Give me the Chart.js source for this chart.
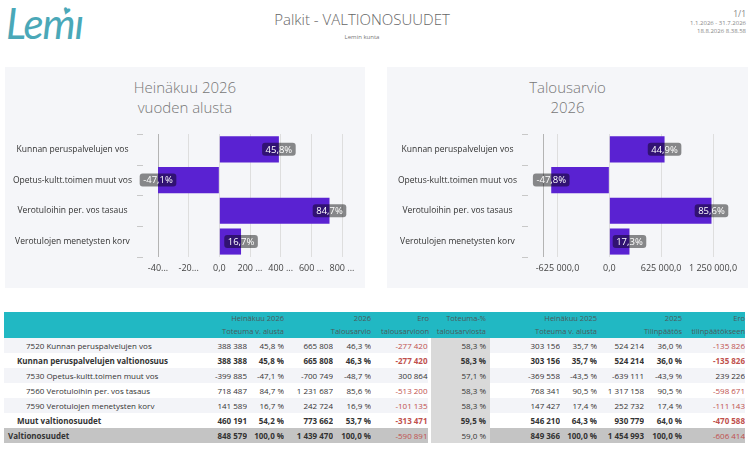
<!DOCTYPE html>
<html>
<head>
<meta charset="utf-8">
<script src="https://cdn.jsdelivr.net/npm/chart.js@4.4.1/dist/chart.umd.min.js"></script>
<style>
    body { margin: 0; width: 750px; height: 450px; background: #fff; font-family: "Open Sans", "Noto Sans", sans-serif; position: relative; overflow: hidden; }
    .abs { position: absolute; }
    #logo { left: 6px; top: -2px; font-family: Lato, sans-serif; font-style: italic; font-size: 42px; color: #4aa8b8; letter-spacing: -1px; }
    #logo .heart { position: absolute; left: 57px; top: 4px; font-size: 13px; font-style: normal; transform: rotate(20deg); }
    #title { left: 0; width: 724px; top: 9px; text-align: center; font-size: 15px; line-height: 20px; color: #666; font-weight: 300; }
    #subtitle { left: 0; width: 724px; top: 33px; text-align: center; font-size: 6px; color: #777; }
    #meta { right: 4px; top: 9px; text-align: right; color: #888; font-size: 6px; line-height: 8px; }
    #meta .page { font-size: 8.5px; line-height: 10px; }
    .panel { top: 67px; height: 221px; background: #f5f6f9; }
    .panel .ptitle { position: absolute; left: 0; right: 0; top: 10px; text-align: center; font-size: 15px; line-height: 20px; color: #777; font-weight: 300; }
    .panel canvas { position: absolute; left: 0; top: 0; }
    table { position: absolute; left: 4px; top: 312px; width: 741px; border-collapse: collapse; table-layout: fixed; font-size: 8px; color: #333; }
    th { background: #21b8c3; color: #4a5a5c; font-weight: normal; font-size: 7.5px; line-height: 13px; height: 26px; text-align: right; padding: 0; white-space: nowrap; }
    td { height: 15px; padding: 0; text-align: right; white-space: nowrap; overflow: hidden; }
    td.lbl { text-align: left; }
    tr.odd td { background: #f3f4f8; }
    tr.total td { background: #c4c4c4; }
    td.share { background: #d9d9d9 !important; padding-right: 4px; border-left: 3px solid transparent; background-clip: padding-box !important; }
    .neg { color: #c0504d; }
    .b { font-weight: bold; }
</style>
</head>
<body>
<div id="logo" class="abs">Lemı<span class="heart">♥</span></div>
<div id="title" class="abs">Palkit - VALTIONOSUUDET</div>
<div id="subtitle" class="abs">Lemin kunta</div>
<div id="meta" class="abs"><div class="page">1/1</div>1.1.2026 - 31.7.2026<br>18.8.2026 8.38.58</div>

<div class="panel abs" style="left:5px; width:360px;">
    <div class="ptitle">Heinäkuu 2026<br>vuoden alusta</div>
    <canvas id="chartToteuma" width="360" height="221"></canvas>
</div>
<div class="panel abs" style="left:387px; width:361px;">
    <div class="ptitle">Talousarvio<br>2026</div>
    <canvas id="chartTalousarvio" width="361" height="221"></canvas>
</div>

<table id="report"></table>

<script>
// chart data
const categories = ['Kunnan peruspalvelujen vos', 'Opetus-kultt.toimen muut vos', 'Verotuloihin per. vos tasaus', 'Verotulojen menetysten korv'];
const toteuma2026 = [388388, -399885, 718487, 141589];
const toteuma2026Pct = [45.8, -47.1, 84.7, 16.7];
const talousarvio2026 = [665808, -700749, 1231687, 242724];
const talousarvio2026Pct = [44.9, -47.8, 85.6, 17.3];

const toteumaTicks = [-400000, -200000, 0, 200000, 400000, 600000, 800000];
const toteumaTickLabels = ['-40...', '-20...', '0,0', '200 ...', '400 ...', '600 ...', '800 ...'];
const talousarvioTicks = [-625000, 0, 625000, 1250000];
const talousarvioTickLabels = ['-625 000,0', '0,0', '625 000,0', '1 250 000,0'];

// table data
const rowLabels = ['7520 Kunnan peruspalvelujen vos', 'Kunnan peruspalvelujen valtionosuus', '7530 Opetus-kultt.toimen muut vos',
    '7560 Verotuloihin per. vos tasaus', '7590 Verotulojen menetysten korv', 'Muut valtionosuudet', 'Valtionosuudet'];
const rowLevels = [2, 1, 2, 2, 2, 1, 0];
const tot26 = [388388, 388388, -399885, 718487, 141589, 460191, 848579];
const tot26Pct = [45.8, 45.8, -47.1, 84.7, 16.7, 54.2, 100.0];
const ta26 = [665808, 665808, -700749, 1231687, 242724, 773662, 1439470];
const ta26Pct = [46.3, 46.3, -48.7, 85.6, 16.9, 53.7, 100.0];
const eroTa = [-277420, -277420, 300864, -513200, -101135, -313471, -590891];
const totTaPct = [58.3, 58.3, 57.1, 58.3, 58.3, 59.5, 59.0];
const tot25 = [303156, 303156, -369558, 768341, 147427, 546210, 849366];
const tot25Pct = [35.7, 35.7, -43.5, 90.5, 17.4, 64.3, 100.0];
const tp25 = [524214, 524214, -639111, 1317158, 252732, 930779, 1454993];
const tp25Pct = [36.0, 36.0, -43.9, 90.5, 17.4, 64.0, 100.0];
const eroTp = [-135826, -135826, 239226, -598671, -111143, -470588, -606414];

const BAR_COLOR = '#5a22d2';
const FONT = '"Open Sans", "Noto Sans", sans-serif';

function fmtNum(v) {
    const s = Math.abs(v).toString().replace(/\B(?=(\d{3})+(?!\d))/g, ' ');
    return (v < 0 ? '-' : '') + s;
}
function fmtPct(v, space) {
    return v.toFixed(1).replace('.', ',') + (space ? ' %' : '%');
}

// small marks between categories, left of the axis
const categoryMarks = {
    id: 'categoryMarks',
    afterDraw(chart) {
        const y = chart.scales.y;
        const ctx = chart.ctx;
        const band = y.getPixelForValue(1) - y.getPixelForValue(0);
        const left = chart.chartArea.left;
        ctx.save();
        ctx.strokeStyle = '#c8c8c8';
        ctx.lineWidth = 1;
        for (let i = 0; i <= categories.length; i++) {
            const py = Math.round(y.getPixelForValue(i) - band / 2) + 0.5;
            ctx.beginPath();
            ctx.moveTo(left - 21, py);
            ctx.lineTo(left - 15, py);
            ctx.stroke();
        }
        ctx.restore();
    }
};

// percentage labels at the bar ends
const barLabels = {
    id: 'barLabels',
    afterDatasetsDraw(chart) {
        const ctx = chart.ctx;
        const pct = chart.options.plugins.barLabels.values;
        const meta = chart.getDatasetMeta(0);
        ctx.save();
        ctx.font = '9.5px ' + FONT;
        ctx.textAlign = 'center';
        ctx.textBaseline = 'middle';
        meta.data.forEach((bar, i) => {
            const text = fmtPct(pct[i], false);
            const w = ctx.measureText(text).width + 7;
            const h = 13;
            ctx.fillStyle = 'rgba(0,0,0,0.45)';
            ctx.beginPath();
            ctx.roundRect(bar.x - w / 2, bar.y - h / 2, w, h, 3);
            ctx.fill();
            ctx.fillStyle = '#fff';
            ctx.fillText(text, bar.x, bar.y + 0.5);
        });
        ctx.restore();
    }
};

function makeChart(id, values, pct, ticks, tickLabels, min, max, axisWidth, padRight) {
    return new Chart(document.getElementById(id), {
        type: 'bar',
        data: {
            labels: categories,
            datasets: [{
                data: values,
                backgroundColor: BAR_COLOR,
                barPercentage: 0.85,
                categoryPercentage: 1
            }]
        },
        options: {
            indexAxis: 'y',
            responsive: false,
            animation: false,
            layout: { padding: { left: 0, right: padRight, top: 67, bottom: 7 } },
            plugins: {
                legend: { display: false },
                tooltip: { enabled: false },
                barLabels: { values: pct }
            },
            scales: {
                x: {
                    min: min,
                    max: max,
                    afterBuildTicks: (scale) => { scale.ticks = ticks.map(v => ({ value: v })); },
                    grid: { color: '#dedede', drawTicks: false },
                    border: { display: false },
                    ticks: {
                        padding: 6,
                        color: '#444',
                        font: { family: FONT, size: 9 },
                        maxRotation: 0,
                        autoSkip: false,
                        callback: (v) => tickLabels[ticks.indexOf(v)]
                    }
                },
                y: {
                    afterFit: (scale) => { scale.width = axisWidth; },
                    grid: { display: false, drawTicks: false },
                    border: { display: true, color: '#b4b4b4' },
                    ticks: {
                        crossAlign: 'center',
                        padding: 26,
                        color: '#333',
                        font: { family: FONT, size: 8.5 }
                    }
                }
            }
        },
        plugins: [categoryMarks, barLabels]
    });
}

makeChart('chartToteuma', toteuma2026, toteuma2026Pct,
    toteumaTicks, toteumaTickLabels, -400000, 800000, 153, 23);
makeChart('chartTalousarvio', talousarvio2026, talousarvio2026Pct,
    talousarvioTicks, talousarvioTickLabels, -800000, 1250000, 156, 35);

// table
function buildTable() {
    const widths = [206, 37, 37, 49, 38, 58, 61, 70, 37, 47, 38, 63];
    let html = '<colgroup>' + widths.map(w => `<col style="width:${w}px">`).join('') + '</colgroup>';
    html += '<tr><th></th>' +
        '<th colspan="2">Heinäkuu 2026<br>Toteuma v. alusta</th>' +
        '<th colspan="2">2026<br>Talousarvio</th>' +
        '<th>Ero<br>talousarvioon</th>' +
        '<th style="padding-right:4px">Toteuma-%<br>talousarviosta</th>' +
        '<th colspan="2">Heinäkuu 2025<br>Toteuma v. alusta</th>' +
        '<th colspan="2">2025<br>Tilinpäätös</th>' +
        '<th>Ero<br>tilinpäätökseen</th></tr>';
    rowLabels.forEach((label, i) => {
        const level = rowLevels[i];
        const cls = level === 0 ? 'total' : (i % 2 === 0 ? 'odd' : '');
        const b = level <= 1 ? ' b' : '';
        const bEro = level === 1 ? ' b' : '';
        const indent = level === 2 ? 22 : (level === 1 ? 13 : 4);
        const ero = (v) => `<td class="${v < 0 ? 'neg' : ''}${bEro}">${fmtNum(v)}</td>`;
        html += `<tr class="${cls}">` +
            `<td class="lbl${b}" style="padding-left:${indent}px">${label}</td>` +
            `<td class="${b}">${fmtNum(tot26[i])}</td>` +
            `<td class="${b}">${fmtPct(tot26Pct[i], true)}</td>` +
            `<td class="${b}">${fmtNum(ta26[i])}</td>` +
            `<td class="${b}">${fmtPct(ta26Pct[i], true)}</td>` +
            ero(eroTa[i]) +
            `<td class="share${bEro}">${fmtPct(totTaPct[i], true)}</td>` +
            `<td class="${b}">${fmtNum(tot25[i])}</td>` +
            `<td class="${b}">${fmtPct(tot25Pct[i], true)}</td>` +
            `<td class="${b}">${fmtNum(tp25[i])}</td>` +
            `<td class="${b}">${fmtPct(tp25Pct[i], true)}</td>` +
            ero(eroTp[i]) +
            '</tr>';
    });
    document.getElementById('report').innerHTML = html;
}
buildTable();
</script>
</body>
</html>
